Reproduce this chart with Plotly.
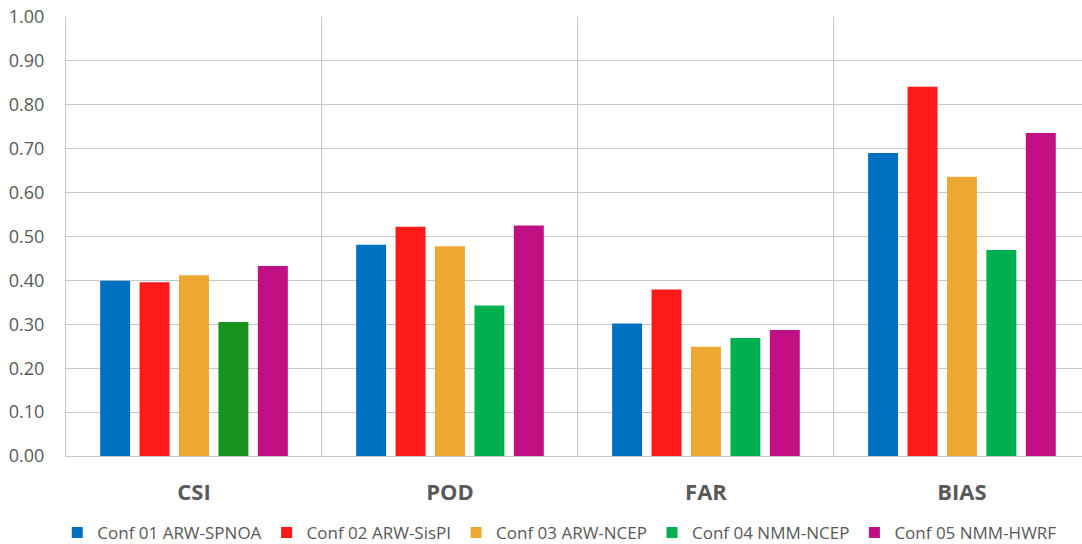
import plotly.graph_objects as go

categories = ["CSI", "POD", "FAR", "BIAS"]
series_names = ["Conf 01 ARW-SPNOA", "Conf 02 ARW-SisPI", "Conf 03 ARW-NCEP",
                "Conf 04 NMM-NCEP", "Conf 05 NMM-HWRF"]
conf01 = [0.399, 0.481, 0.302, 0.690]
conf02 = [0.396, 0.522, 0.379, 0.841]
conf03 = [0.412, 0.478, 0.249, 0.636]
conf04 = [0.305, 0.343, 0.269, 0.469]
conf05 = [0.433, 0.525, 0.287, 0.736]
series_values = [conf01, conf02, conf03, conf04, conf05]
series_colors = ["#0070C0", "#FF1A1A", "#ECA832", "#00B050", "#C01083"]
# the CSI bar of Conf 04 is drawn in a darker green in the original
bar_colors = [
    ["#0070C0"] * 4,
    ["#FF1A1A"] * 4,
    ["#ECA832"] * 4,
    ["#19931F", "#00B050", "#00B050", "#00B050"],
    ["#C01083"] * 4,
]
y_ticks = [0.0, 0.1, 0.2, 0.3, 0.4, 0.5, 0.6, 0.7, 0.8, 0.9, 1.0]

FONT = "Open Sans"
GREY = "#595959"

fig = go.Figure()
for name, vals, cols in zip(series_names, series_values, bar_colors):
    fig.add_trace(go.Bar(
        x=categories, y=vals, name=name, showlegend=False,
        marker=dict(color=cols, line=dict(width=0)),
    ))
# legend entries (square swatches in the series colour)
for name, col in zip(series_names, series_colors):
    fig.add_trace(go.Scatter(
        x=[None], y=[None], mode="markers", name=name,
        marker=dict(symbol="square", size=11, color=col),
    ))

fig.update_layout(
    width=1082, height=544,
    margin=dict(l=66, r=0, t=17, b=88, autoexpand=False),
    paper_bgcolor="white", plot_bgcolor="white",
    barmode="group", bargap=0.23, bargroupgap=0.24,
    font=dict(family=FONT, color=GREY),
    showlegend=True,
    legend=dict(orientation="h", x=0.486, xanchor="center", y=-0.175, yanchor="middle",
                font=dict(family=FONT, size=17, color=GREY),
                itemwidth=30, tracegroupgap=0),
    xaxis=dict(
        type="category", range=[-0.5, 3.469], automargin=False,
        tickson="boundaries", showgrid=True, gridcolor="#C8C8C8", gridwidth=1,
        ticks="", ticklabelstandoff=17,
        tickfont=dict(family=FONT, size=22, color=GREY, weight="bold"),
        showline=True, linecolor="#C8C8C8", linewidth=1,
        zeroline=False,
    ),
    yaxis=dict(
        range=[0, 1.0], tickvals=y_ticks, tickformat=".2f", automargin=False,
        ticklabeloverflow="allow",
        showgrid=True, gridcolor="#C8C8C8", gridwidth=1,
        ticks="", ticklabelstandoff=17,
        tickfont=dict(family=FONT, size=18, color=GREY),
        showline=True, linecolor="#C8C8C8", linewidth=1,
        zeroline=False,
    ),
)

# remove the browser's default 8px body margin so the figure fills the window
fig.write_html("out.html", config={"displayModeBar": False},
               post_script="document.body.style.margin='0';")
